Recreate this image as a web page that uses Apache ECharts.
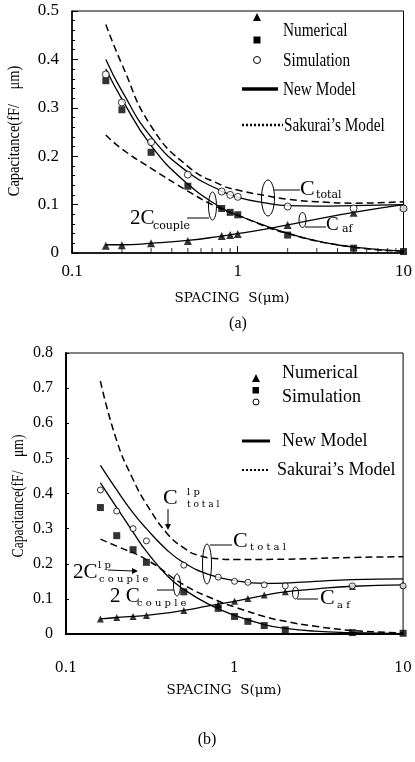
<!DOCTYPE html>
<html><head><meta charset="utf-8">
<script src="https://cdn.jsdelivr.net/npm/echarts@6/dist/echarts.min.js"></script>
<style>html,body{margin:0;padding:0;background:#fff}#c{width:415px;height:762px}</style>
</head><body><div id="c"></div>
<script>
// ---------- (a) data ----------
const sTop = [0.16, 0.2, 0.3, 0.5, 0.8, 0.9, 1, 2, 5, 10];
const cafSimTop = [0.015, 0.016, 0.02, 0.025, 0.035, 0.037, 0.039, 0.058, 0.083, 0.096];
const coupleSimTop = [0.356, 0.296, 0.208, 0.138, 0.092, 0.084, 0.079, 0.037, 0.010, 0.003];
const totalSimTop = [0.369, 0.311, 0.229, 0.162, 0.127, 0.120, 0.116, 0.096, 0.092, 0.092];
const sModelTop = [0.16, 0.2, 0.3, 0.5, 0.8, 1, 1.5, 2, 3, 5, 10];
const totalModelTop = [0.400, 0.335, 0.240, 0.167, 0.128, 0.115, 0.103, 0.098, 0.097, 0.098, 0.100];
const coupleModelTop = [0.380, 0.318, 0.222, 0.142, 0.093, 0.078, 0.055, 0.041, 0.025, 0.012, 0.004];
const cafModelTop = [0.017, 0.017, 0.020, 0.026, 0.035, 0.040, 0.050, 0.058, 0.070, 0.084, 0.100];
const totalSakTop = [0.472, 0.390, 0.262, 0.179, 0.140, 0.130, 0.118, 0.111, 0.106, 0.103, 0.106];
const sCoupleSakTop = [0.16, 0.2, 0.3, 0.5, 0.7, 1, 2, 5, 10];
const coupleSakTop = [0.244, 0.215, 0.175, 0.128, 0.100, 0.078, 0.040, 0.012, 0.004];

// ---------- (b) data ----------
const sBot = [0.16, 0.2, 0.25, 0.3, 0.5, 0.8, 1, 1.2, 1.5, 2, 5, 10];
const totalSimBot = [0.41, 0.35, 0.30, 0.265, 0.196, 0.162, 0.150, 0.147, 0.140, 0.137, 0.137, 0.137];
const coupleSimBot = [0.36, 0.28, 0.24, 0.204, 0.120, 0.073, 0.050, 0.036, 0.024, 0.012, 0.004, 0.002];
const cafSimBot = [0.043, 0.047, 0.050, 0.053, 0.067, 0.084, 0.093, 0.101, 0.111, 0.120, 0.135, 0.140];
const sModelBot = [0.16, 0.2, 0.25, 0.3, 0.4, 0.5, 0.7, 1, 1.5, 2, 3, 5, 10];
const totalModelBot = [0.48, 0.41, 0.345, 0.300, 0.238, 0.203, 0.170, 0.152, 0.144, 0.145, 0.150, 0.155, 0.157];
const coupleModelBot = [0.43, 0.36, 0.29, 0.235, 0.165, 0.127, 0.085, 0.053, 0.027, 0.016, 0.008, 0.004, 0.001];
const cafModelBot = [0.043, 0.047, 0.050, 0.053, 0.060, 0.067, 0.080, 0.093, 0.110, 0.120, 0.128, 0.136, 0.140];
const sTotalLpBot = [0.16, 0.2, 0.25, 0.3, 0.4, 0.5, 0.6, 0.8, 1, 2, 5, 10];
const totalLpBot = [0.72, 0.55, 0.44, 0.37, 0.285, 0.245, 0.225, 0.214, 0.212, 0.213, 0.218, 0.220];
const sCoupleLpBot = [0.16, 0.2, 0.3, 0.5, 0.8, 1, 1.5, 2, 3, 5, 10];
const coupleLpBot = [0.27, 0.25, 0.212, 0.140, 0.094, 0.077, 0.050, 0.036, 0.022, 0.010, 0.003];

// ---------- ticks ----------
const xTickLabels = ['0.1', '1', '10'];
const xMinorTicks = [0.2, 0.3, 0.4, 0.5, 0.6, 0.7, 0.8, 0.9, 2, 3, 4, 5, 6, 7, 8, 9];
const yMaxTop = 0.5, yMaxBot = 0.8, yStep = 0.1;

const zip = (xs, ys) => xs.map((x, i) => [x, ys[i]]);
const SERIF = 'Liberation Serif';
const CENT = 'DejaVu Serif';

function lineS(ax, xs, ys, dashed, w) {
  return { type: 'line', xAxisIndex: ax, yAxisIndex: ax, data: zip(xs, ys), symbol: 'none',
    smooth: 0.5, silent: true, z: 2,
    lineStyle: { color: '#000', width: w || 1.3, type: dashed ? [7, 4] : 'solid' } };
}
function scat(ax, xs, ys, sym, size, hollow) {
  return { type: 'scatter', xAxisIndex: ax, yAxisIndex: ax, data: zip(xs, ys), symbol: sym,
    symbolSize: size, silent: true, z: 5,
    itemStyle: hollow ? { color: '#fff', borderColor: '#000', borderWidth: 1 } : { color: '#000' } };
}
function minorTicks(ax, len) {
  return { type: 'scatter', xAxisIndex: ax, yAxisIndex: ax, data: xMinorTicks.map(v => [v, 0]),
    symbol: 'rect', symbolSize: [1, len], symbolOffset: [0, -len / 2], silent: true, z: 3,
    itemStyle: { color: '#000' } };
}

function xAx(grid, lblSize, lblFam, margin, tick) {
  return { type: 'log', logBase: 10, min: 0.1, max: 10, gridIndex: grid,
    axisLine: { show: true, lineStyle: { color: '#000', width: grid ? 2 : 1.5 } },
    axisTick: { show: tick, inside: true, length: 7, lineStyle: { color: '#000' } },
    splitLine: { show: false },
    axisLabel: { color: '#000', fontFamily: lblFam, fontSize: lblSize, margin: margin,
      formatter: (v, i) => xTickLabels[i] } };
}
function yAx(grid, max, lblSize, margin, minor) {
  return { type: 'value', min: 0, max: max, interval: yStep, gridIndex: grid,
    axisLine: { show: true, lineStyle: { color: '#000', width: grid ? 2 : 1.5 } },
    axisTick: { show: true, inside: true, length: minor ? 6 : 3, lineStyle: { color: '#000' } },
    minorTick: { show: minor, splitNumber: 5, length: 3, lineStyle: { color: '#000' } },
    splitLine: { show: false },
    axisLabel: { color: '#000', fontFamily: SERIF, fontSize: lblSize, margin: margin } };
}

// ---------- graphic helpers ----------
function T(x, y, text, size, fam, o) {
  o = o || {};
  return { type: 'text', x: x, y: y, rotation: o.rot || 0, scaleX: o.sx || 1,
    style: { text: text, fill: '#000', font: size + 'px "' + fam + '"',
      align: o.align || 'left', verticalAlign: 'middle' }, z: 10 };
}
function L(x1, y1, x2, y2, w, dash) {
  return { type: 'line', shape: { x1, y1, x2, y2 },
    style: { stroke: '#000', lineWidth: w || 1, lineDash: dash || null }, z: 10 };
}
function E(cx, cy, rx, ry) {
  return { type: 'ellipse', shape: { cx, cy, rx, ry }, style: { fill: null, stroke: '#000', lineWidth: 1 }, z: 10 };
}
function P(points, hollow) {
  return { type: 'polygon', shape: { points }, style: hollow ? { fill: '#fff', stroke: '#000', lineWidth: 1 } : { fill: '#000' }, z: 10 };
}
function R(x, y, w, h) { return { type: 'rect', shape: { x, y, width: w, height: h }, style: { fill: '#000' }, z: 10 }; }
function C(cx, cy, r) { return { type: 'circle', shape: { cx, cy, r }, style: { fill: '#fff', stroke: '#000', lineWidth: 1 }, z: 10 }; }

const graphics = [
  // ----- (a) -----
  T(15, 131, 'Capacitance(fF/    μm)', 17, SERIF, { rot: Math.PI / 2, align: 'center', sx: 0.85 }),
  T(232, 298, 'SPACING  S(μm)', 13.5, CENT, { align: 'center' }),
  T(238, 324, '(a)', 16, SERIF, { align: 'center' }),
  // legend (a)
  P([[257, 13], [253, 21], [261, 21]]), R(253.5, 36.5, 7, 7), C(257, 60, 3.5),
  T(283, 31, 'Numerical', 18, SERIF, { sx: 0.85 }),
  T(283, 61, 'Simulation', 18, SERIF, { sx: 0.85 }),
  L(242, 89, 278, 89, 3.5), T(283, 90, 'New Model', 18, SERIF, { sx: 0.85 }),
  L(242, 125, 283, 125, 2.5, [2, 2]), T(284, 126, 'Sakurai\u2019s Model', 18, SERIF, { sx: 0.85 }),
  // annotations (a)
  E(268, 198, 6.5, 18), L(274, 190, 300, 190), T(300, 189, 'C', 22, SERIF), T(316, 195, 'total', 11, CENT),
  T(130, 218, '2C', 21, SERIF), T(153, 226, 'couple', 11, CENT), L(187, 218, 209, 218), E(212.5, 206, 4, 14),
  E(302.5, 220, 3.5, 7.5), L(305, 227, 326, 227), T(326, 225, 'C', 19, SERIF), T(342, 229, 'af', 11, CENT),

  // ----- (b) -----
  T(19, 496, 'Capacitance(fF/    μm)', 16, SERIF, { rot: Math.PI / 2, align: 'center', sx: 0.85 }),
  T(224, 690, 'SPACING  S(μm)', 13.5, CENT, { align: 'center' }),
  T(207, 740, '(b)', 16, SERIF, { align: 'center' }),
  // legend (b)
  P([[256, 374], [252, 382], [260, 382]]), R(252.5, 387, 6.5, 6.5), C(256, 402, 3),
  T(282, 373, 'Numerical', 18, SERIF), T(282, 397, 'Simulation', 18, SERIF),
  L(242, 441, 270, 441, 3), T(282, 441, 'New Model', 18, SERIF),
  L(242, 470, 268, 470, 2, [2, 2]), T(277, 470, 'Sakurai\u2019s Model', 18, SERIF),
  // annotations (b)
  T(163, 498, 'C', 22, SERIF), T(187, 492, 'l p', 10, CENT), T(187, 505, 't o t a l', 9, CENT),
  L(168, 509, 168, 525), P([[165, 524], [171, 524], [168, 530]]),
  E(207, 564, 4.5, 20), L(210, 545, 232, 545), T(233, 541, 'C', 22, SERIF), T(250, 547, 't o t a l', 10, CENT),
  T(73, 572, '2C', 21, SERIF), T(98, 565, 'l p', 10, CENT), T(99, 579, 'c o u p l e', 10, CENT),
  L(108, 570, 133, 571), P([[132, 568], [132, 574], [138, 571]]),
  T(110, 596, '2 C', 21, SERIF), T(137, 603, 'c o u p l e', 10, CENT), L(157, 590, 174, 590), E(177, 585, 3.5, 11),
  E(295.5, 593, 3, 6), L(297, 599, 318, 599), T(320, 598, 'C', 22, SERIF), T(337, 605, 'a f', 10, CENT)
];

const chart = echarts.init(document.getElementById('c'), null, { renderer: 'canvas' });
chart.setOption({
  animation: false,
  backgroundColor: '#fff',
  grid: [
    { left: 72, top: 11, width: 335, height: 242, show: true, borderColor: '#000', borderWidth: 1, backgroundColor: 'transparent' },
    { left: 66, top: 353, width: 340, height: 281, show: true, borderColor: '#000', borderWidth: 1, backgroundColor: 'transparent' }
  ],
  xAxis: [xAx(0, 17, SERIF, 10, true), xAx(1, 14, CENT, 27, false)],
  yAxis: [yAx(0, yMaxTop, 17, 13, true), yAx(1, yMaxBot, 16, 13, false)],
  series: [
    minorTicks(0, 5),
    lineS(0, sModelTop, totalModelTop, false),
    lineS(0, sModelTop, coupleModelTop, false),
    lineS(0, sModelTop, cafModelTop, false),
    lineS(0, sModelTop, totalSakTop, true, 1.5),
    lineS(0, sCoupleSakTop, coupleSakTop, true, 1.5),
    scat(0, sTop, cafSimTop, 'triangle', 8),
    scat(0, sTop, coupleSimTop, 'rect', 7),
    scat(0, sTop, totalSimTop, 'circle', 7, true),

    lineS(1, sModelBot, totalModelBot, false),
    lineS(1, sModelBot, coupleModelBot, false),
    lineS(1, sModelBot, cafModelBot, false),
    lineS(1, sTotalLpBot, totalLpBot, true, 1.5),
    lineS(1, sCoupleLpBot, coupleLpBot, true, 1.5),
    scat(1, sBot, cafSimBot, 'triangle', 7),
    scat(1, sBot, coupleSimBot, 'rect', 7),
    scat(1, sBot, totalSimBot, 'circle', 6, true)
  ],
  graphic: graphics
});
</script></body></html>
